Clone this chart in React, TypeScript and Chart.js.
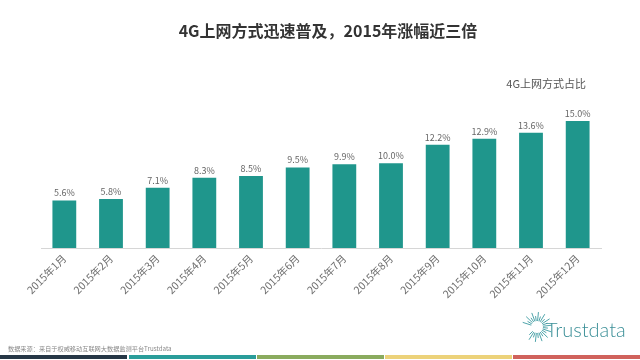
import React, { useEffect, useRef } from "react";
import { Chart, registerables } from "chart.js";

Chart.register(...registerables);

const months: string[] = [
  "2015年1月", "2015年2月", "2015年3月", "2015年4月", "2015年5月", "2015年6月",
  "2015年7月", "2015年8月", "2015年9月", "2015年10月", "2015年11月", "2015年12月",
];
const share4G: number[] = [5.6, 5.8, 7.1, 8.3, 8.5, 9.5, 9.9, 10.0, 12.2, 12.9, 13.6, 15.0];
const seriesName = "4G上网方式占比";
const titleText = "4G上网方式迅速普及，2015年涨幅近三倍";
const sourceText = "数据来源：来自于权威移动互联网大数据监测平台Trustdata";
const brandText = "Trustdata";
const stripeColors: string[] = ["#263746", "#2a9d9a", "#8aab5e", "#ecd27a", "#d0625c"];

const FONT = '"Noto Sans CJK SC", "Noto Sans", sans-serif';

const decorPlugin = {
  id: "decor",
  afterDraw(chart: any) {
    const ctx = chart.ctx as CanvasRenderingContext2D;
    const W = chart.width;
    ctx.save();
    // title
    ctx.fillStyle = "#333333";
    ctx.font = `bold 16px ${FONT}`;
    ctx.textAlign = "center";
    ctx.textBaseline = "middle";
    ctx.fillText(titleText, 328, 31);
    // series label
    ctx.fillStyle = "#555555";
    ctx.font = `11px ${FONT}`;
    ctx.textAlign = "right";
    ctx.fillText(seriesName, 586, 84);
    // data labels
    const meta = chart.getDatasetMeta(0);
    ctx.font = `9px ${FONT}`;
    ctx.fillStyle = "#666666";
    ctx.textAlign = "center";
    ctx.textBaseline = "bottom";
    meta.data.forEach((bar: any, i: number) => {
      ctx.fillText(share4G[i].toFixed(1) + "%", bar.x, bar.y - 3);
    });
    // source
    ctx.textAlign = "left";
    ctx.textBaseline = "middle";
    ctx.font = `6.2px ${FONT}`;
    ctx.fillStyle = "#8a8a8a";
    ctx.fillText(sourceText, 8, 349);
    // stripes
    const seg = W / stripeColors.length;
    stripeColors.forEach((c, i) => {
      ctx.fillStyle = c;
      ctx.fillRect(i * seg + (i ? 1 : 0), 355, seg - 1, 4);
    });
    // logo sunburst
    const cx = 537, cy = 327;
    ctx.strokeStyle = "#3b9aa0";
    ctx.lineWidth = 0.9;
    for (let k = 0; k < 24; k++) {
      const a = -Math.PI * 0.9 + (k / 23) * Math.PI * 1.65;
      const r1 = 6;
      const r2 = k % 2 === 0 ? 15 : 11;
      ctx.beginPath();
      ctx.moveTo(cx + Math.cos(a) * r1, cy + Math.sin(a) * r1);
      ctx.lineTo(cx + Math.cos(a) * r2, cy + Math.sin(a) * r2);
      ctx.stroke();
    }
    ctx.fillStyle = "#3b8f97";
    ctx.font = `300 20px "Lato", "Open Sans", sans-serif`;
    ctx.textAlign = "left";
    ctx.fillText(brandText, 546, 331);
    ctx.restore();
  },
};

export default function App() {
  const ref = useRef<HTMLCanvasElement | null>(null);
  useEffect(() => {
    if (!ref.current) return;
    const chart = new Chart(ref.current, {
      type: "bar",
      data: {
        labels: months,
        datasets: [
          {
            label: seriesName,
            data: share4G,
            backgroundColor: "#1f968c",
            borderWidth: 0,
            barPercentage: 0.51,
            categoryPercentage: 1,
          },
        ],
      },
      options: {
        responsive: false,
        animation: false,
        layout: { padding: { left: 41, right: 39, top: 112.5, bottom: 0 } },
        plugins: {
          legend: { display: false },
          title: { display: false },
          tooltip: { enabled: false },
        },
        scales: {
          x: {
            grid: { display: false, drawTicks: false },
            border: { display: true, color: "#d6d6d6", width: 1 },
            ticks: {
              color: "#6e6e6e",
              font: { family: FONT, size: 10.5 },
              maxRotation: 45,
              minRotation: 45,
              padding: 4,
              autoSkip: false,
            },
            afterFit: (s: any) => {
              s.height = 112;
            },
          },
          y: {
            display: false,
            min: 0,
            max: 16,
          },
        },
      },
      plugins: [decorPlugin],
    });
    return () => chart.destroy();
  }, []);
  return (
    <div style={{ position: "fixed", left: 0, top: 0, width: 640, height: 360, background: "#fff" }}>
      <canvas ref={ref} width={640} height={360} style={{ width: 640, height: 360 }} />
    </div>
  );
}
